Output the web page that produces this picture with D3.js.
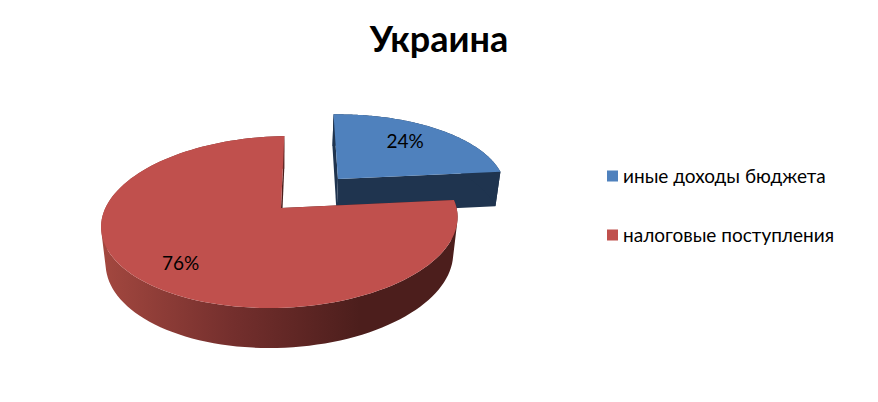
<!DOCTYPE html>
<html>
<head>
<meta charset="utf-8">
<script src="https://cdn.jsdelivr.net/npm/d3@7"></script>
<style>
    html, body { margin: 0; padding: 0; background: #fff; }
    text { font-family: Lato, "Open Sans", "Noto Sans", sans-serif; fill: #000; }
</style>
</head>
<body>
<div id="chart"></div>
<script>
const title = "Украина";
const categories = ["иные доходы бюджета", "налоговые поступления"];
const values = [24, 76];
const colors = ["#4f81bd", "#c0504d"];

const width = 878, height = 402;

const svg = d3.select("#chart").append("svg")
    .attr("width", width)
    .attr("height", height)
    .style("display", "block");

// Perspective view of the pie: u goes right, v goes to the back, h goes down
const view = {x0: 281, y0: 208, bx: 175.6, by: 83.7, shear: 10, persp: 0.163, sink: 0.025, depth: 37};

function project(u, v, h) {
    const w = 1 + view.persp * v + view.sink * h;
    return [
        view.x0 + (view.bx * u + view.shear * v) / w,
        view.y0 + (-view.by * v + view.depth * h) / w
    ];
}

const pie = d3.pie().sort(null).startAngle(-2 * Math.PI / 180).endAngle(358 * Math.PI / 180);
const slices = pie(values);

// Only the small slice is pulled out of the pie
const explode = [0.49, 0];
const labelRadius = [0.7, 0.77];
const labelTurn = -2.5 * Math.PI / 180;
const wallDark = ["#1f344f", "#4c1e1c"];

const line = d3.line();

function pointAt(d, angle, r, h) {
    const a = d.index;
    const mid = (slices[0].startAngle + slices[0].endAngle) / 2;
    const u = Math.sin(mid) * explode[a] + Math.sin(angle) * r;
    const v = Math.cos(mid) * explode[a] + Math.cos(angle) * r;
    return project(u, v, h);
}

function arcPoints(d, h) {
    const n = 120;
    return d3.range(n + 1).map(i => {
        const angle = d.startAngle + (d.endAngle - d.startAngle) * i / n;
        return pointAt(d, angle, 1, h);
    });
}

function cutFace(d, angle) {
    return [pointAt(d, angle, 0, 0), pointAt(d, angle, 1, 0), pointAt(d, angle, 1, 1), pointAt(d, angle, 0, 1)];
}

// The wall is made of small quads, all wound the same way so none cancel out
function wallPath(d) {
    const top = arcPoints(d, 0), bottom = arcPoints(d, 1);
    return d3.range(top.length - 1).map(i => {
        const quad = [top[i], top[i + 1], bottom[i + 1], bottom[i]];
        if (d3.polygonArea(quad) < 0) quad.reverse();
        return line(quad) + "Z";
    }).join("");
}

function labelPos(d) {
    const angle = (d.startAngle + d.endAngle) / 2 + labelTurn;
    return pointAt(d, angle, labelRadius[d.index], 0);
}

// gradient for the red wall
const defs = svg.append("defs");
const grad = defs.append("linearGradient")
    .attr("id", "red-wall")
    .attr("gradientUnits", "userSpaceOnUse")
    .attr("x1", 105).attr("x2", 360)
    .attr("y1", 0).attr("y2", 0);
grad.selectAll("stop")
    .data([{offset: "0%", color: "#a2473f"}, {offset: "50%", color: "#742f2d"}, {offset: "100%", color: "#4c1e1c"}])
    .enter().append("stop")
    .attr("offset", d => d.offset)
    .attr("stop-color", d => d.color);

const pieG = svg.append("g");

slices.forEach(d => {
    const wallFill = d.index === 1 ? "url(#red-wall)" : wallDark[d.index];

    // cut faces
    pieG.append("path")
        .attr("d", line(cutFace(d, d.startAngle)) + "Z")
        .attr("fill", wallDark[d.index]);
    pieG.append("path")
        .attr("d", line(cutFace(d, d.endAngle)) + "Z")
        .attr("fill", wallDark[d.index]);

    // outer wall
    pieG.append("path")
        .attr("d", wallPath(d))
        .attr("fill", wallFill);

    // top face
    const top = [pointAt(d, d.startAngle, 0, 0)].concat(arcPoints(d, 0));
    pieG.append("path")
        .attr("d", line(top) + "Z")
        .attr("fill", colors[d.index]);
});

// value labels
svg.append("g").selectAll("text")
    .data(slices)
    .enter().append("text")
    .attr("x", d => labelPos(d)[0])
    .attr("y", d => labelPos(d)[1])
    .attr("dy", "0.35em")
    .attr("text-anchor", "middle")
    .style("font-size", "19px")
    .text(d => d.value + "%");

// title
svg.append("text")
    .attr("x", 439)
    .attr("y", 52)
    .attr("text-anchor", "middle")
    .style("font-size", "36px")
    .style("font-weight", "bold")
    .text(title);

// legend
const legendY = d3.scalePoint().domain(categories).range([176, 235]);

const legend = svg.append("g").selectAll("g")
    .data(categories)
    .enter().append("g")
    .attr("transform", d => "translate(607," + legendY(d) + ")");

legend.append("rect")
    .attr("x", 0)
    .attr("y", -5.5)
    .attr("width", 11)
    .attr("height", 11)
    .attr("fill", (d, i) => colors[i]);

legend.append("text")
    .attr("x", 16)
    .attr("dy", "0.35em")
    .style("font-size", "19px")
    .text(d => d);
</script>
</body>
</html>
